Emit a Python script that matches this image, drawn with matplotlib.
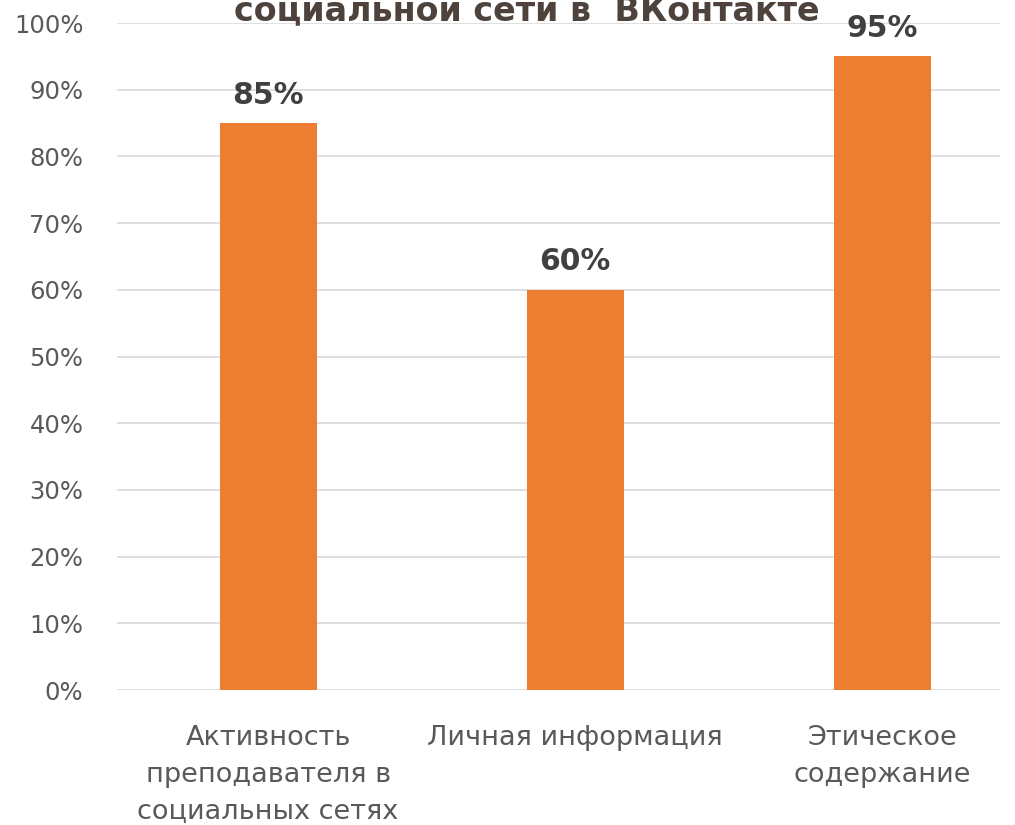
import matplotlib.pyplot as plt
from matplotlib.ticker import PercentFormatter

# Data
categories = [
    "Активность\nпреподавателя в\nсоциальных сетях",
    "Личная информация",
    "Этическое\nсодержание",
]
values = [85, 60, 95]
title_line = "социальной сети в  ВКонтакте"

fig = plt.figure(figsize=(10.15, 8.25), dpi=100)
ax = fig.add_axes([0.115, 0.1636, 0.87, 0.8085])

x = range(len(categories))
ax.bar(x, values, width=0.316, color='#ED7D31', zorder=2)

for xi, v in zip(x, values):
    ax.text(xi, v + 2.0, f"{v}%", ha='center', va='bottom',
            fontsize=21.5, fontweight='bold', color='#404040')

ax.set_ylim(0, 100)
ax.set_xlim(-0.493, 2.383)
ax.set_yticks(range(0, 101, 10))
ax.yaxis.set_major_formatter(PercentFormatter(decimals=0))
ax.set_xticks(list(x))
ax.set_xticklabels(categories, fontsize=19.5, color='#595959', linespacing=1.55)
ax.tick_params(axis='y', labelsize=17.5, labelcolor='#595959', length=0, pad=24)
ax.tick_params(axis='x', length=0, pad=25)
ax.grid(axis='y', color='#D9D9D9', linewidth=1.2, zorder=0)
for s in ax.spines.values():
    s.set_visible(False)

fig.text(527 / 1015, 1 - 20 / 825, title_line, ha='center', va='baseline',
         fontsize=24, fontweight='bold', color='#4E433C')

plt.savefig('out.png', dpi=100)
plt.close()
